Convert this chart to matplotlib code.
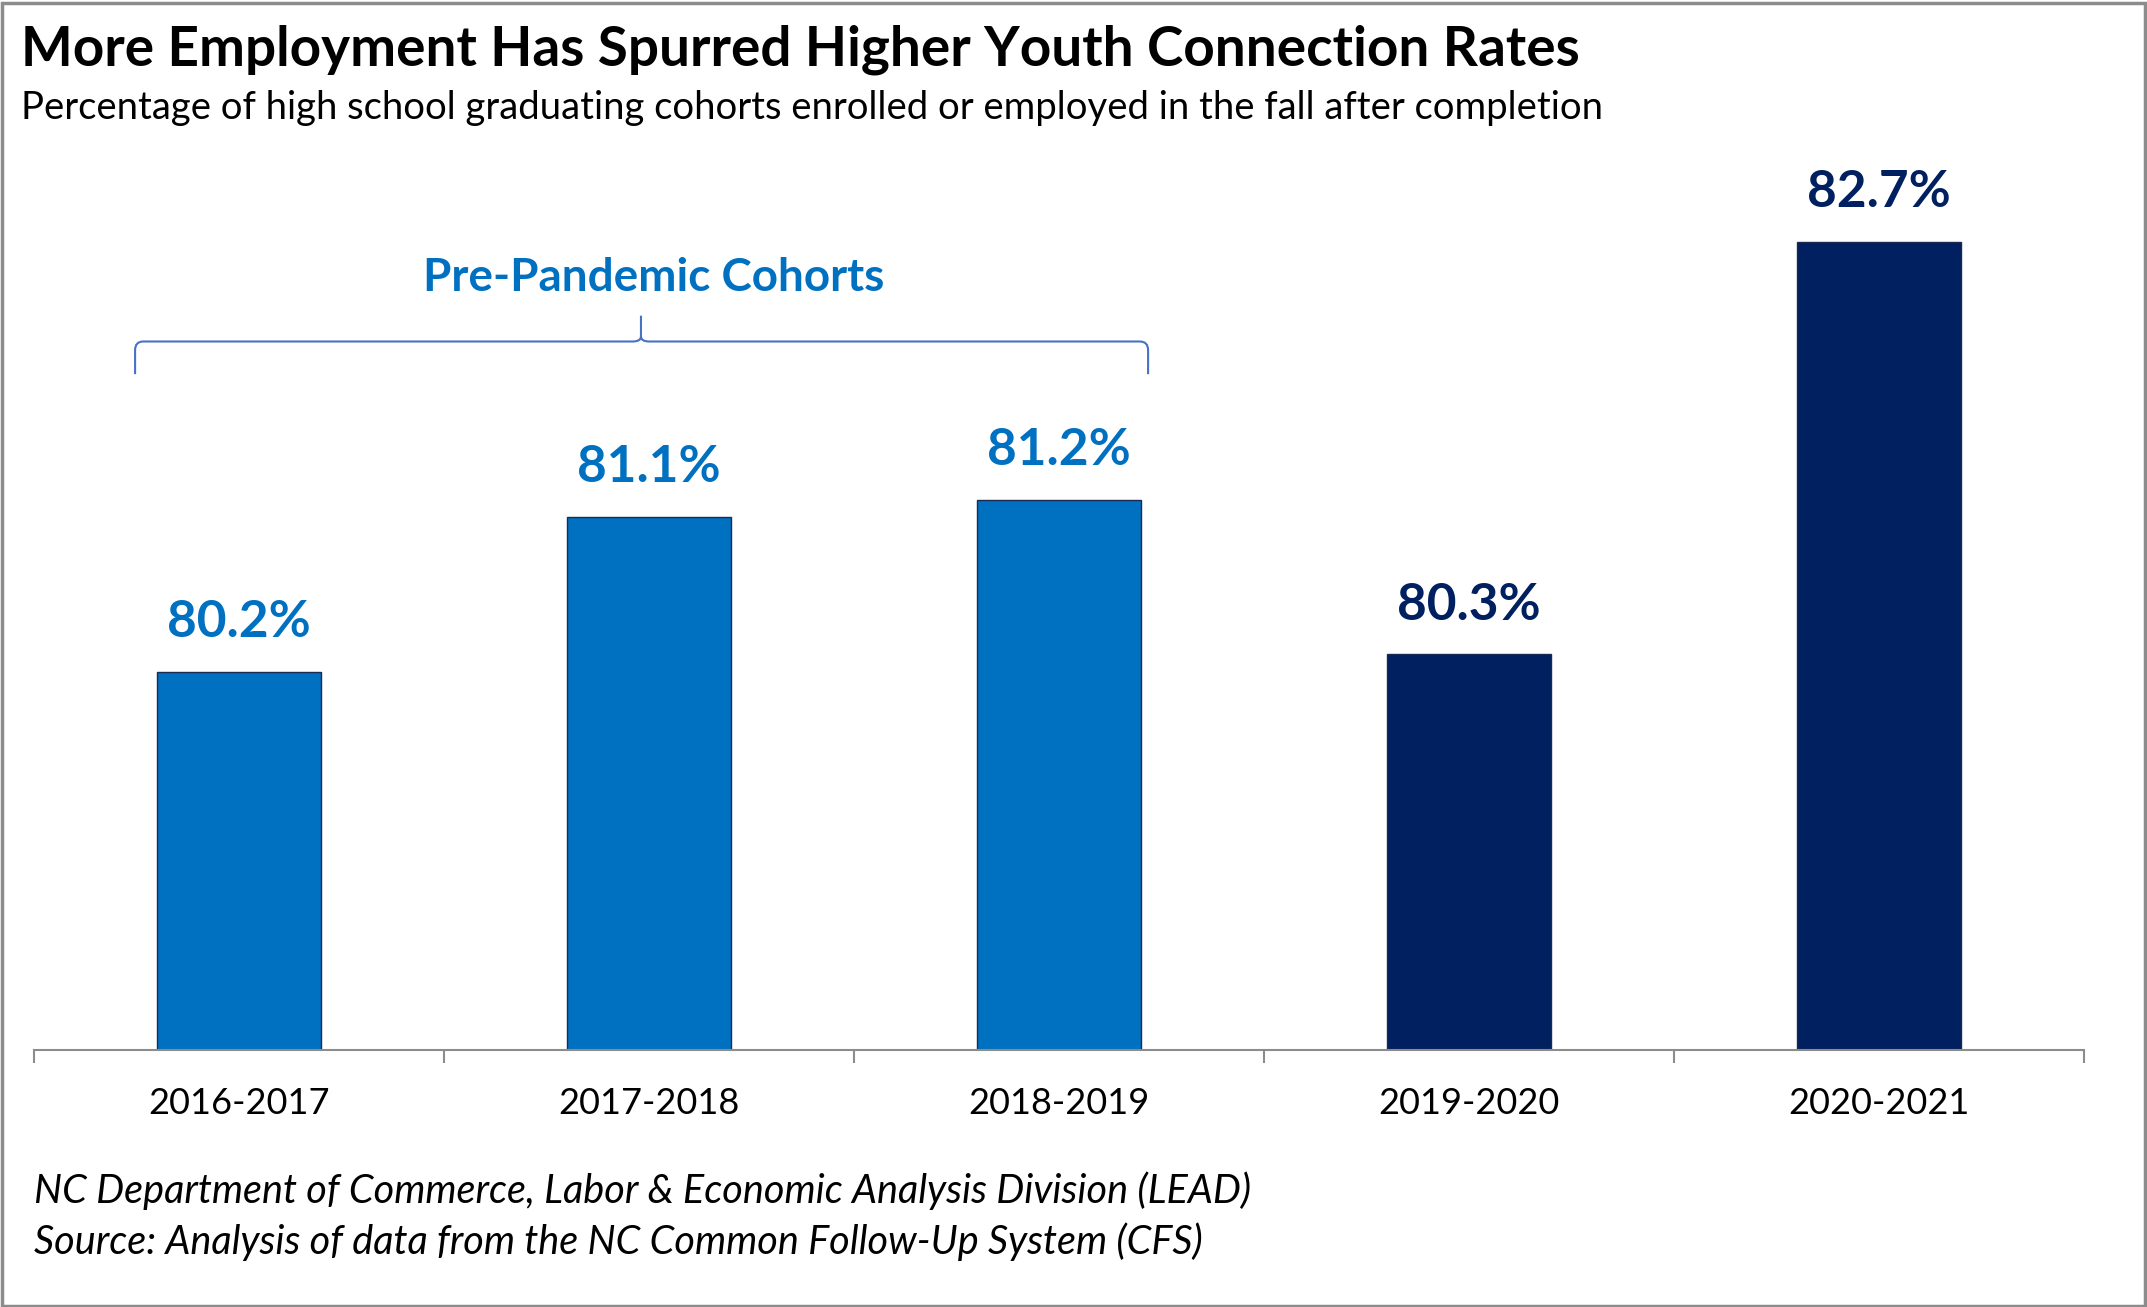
import numpy as np
import matplotlib.pyplot as plt
from matplotlib.path import Path
from matplotlib.patches import PathPatch, Rectangle

plt.rcParams["font.family"] = ["Lato", "DejaVu Sans"]

cohorts = ["2016-2017", "2017-2018", "2018-2019", "2019-2020", "2020-2021"]
rates = [80.2, 81.1, 81.2, 80.3, 82.7]
pre_pandemic = [True, True, True, False, False]

LIGHT = "#0070C0"
DARK = "#002060"
colors = [LIGHT if p else DARK for p in pre_pandemic]

W, H = 1568, 955  # reference layout grid
fig = plt.figure(figsize=(21.47, 13.07), dpi=100)

# grey frame round the whole picture
fig.add_artist(Rectangle((0.001, 0.001), 0.998, 0.997, transform=fig.transFigure,
                         fill=False, edgecolor="#8c8c8c", linewidth=2.5))

left, right = 25 / W, 1522 / W
bottom = 1 - 767 / H
top = 1 - 139 / H
ax = fig.add_axes([left, bottom, right - left, top - bottom])

x = np.arange(len(cohorts))
ax.bar(x, rates, width=0.4, bottom=0, color=colors,
       edgecolor="#1a2a50", linewidth=1.0, zorder=2)
ax.set_xlim(-0.5, len(cohorts) - 0.5)
ax.set_ylim(78, 83)

for xi, r, c in zip(x, rates, colors):
    ax.annotate(f"{r:.1f}%", (xi, r), xytext=(0, 35.5), textcoords="offset points",
                ha="center", va="center", fontsize=37, fontweight="bold", color=c)

for s in ["top", "right", "left"]:
    ax.spines[s].set_visible(False)
ax.spines["bottom"].set_color("#8c8c8c")
ax.spines["bottom"].set_linewidth(1.5)
ax.set_yticks([])
ax.set_xticks(np.arange(len(cohorts) + 1) - 0.5, minor=False)
ax.set_xticklabels([])
ax.tick_params(axis="x", which="major", length=9, width=1.5, color="#8c8c8c")
ax.set_xticks(x, minor=True)
ax.set_xticklabels(cohorts, minor=True, fontsize=26)
ax.tick_params(axis="x", which="minor", length=0, pad=27)

# bracket over the pre-pandemic cohorts
xl, xm, xr = -0.254, 0.98, 2.217
y0, y1, y2 = 81.93, 82.12, 82.27
dx, dy = 0.02, 0.05
verts = [(xl, y0), (xl, y1 - dy), (xl, y1), (xl + dx, y1),
         (xm - dx, y1), (xm, y1), (xm, y1 + dy * 0.6), (xm, y2),
         (xm, y1 + dy * 0.6), (xm, y1), (xm + dx, y1),
         (xr - dx, y1), (xr, y1), (xr, y1 - dy), (xr, y0)]
codes = [Path.MOVETO, Path.LINETO, Path.CURVE3, Path.CURVE3,
         Path.LINETO, Path.CURVE3, Path.CURVE3, Path.LINETO,
         Path.MOVETO, Path.CURVE3, Path.CURVE3,
         Path.LINETO, Path.CURVE3, Path.CURVE3, Path.LINETO]
ax.add_patch(PathPatch(Path(verts, codes), fill=False, edgecolor="#4472C4",
                       linewidth=1.5, clip_on=False))
ax.text(1.01, 82.49, "Pre-Pandemic Cohorts", ha="center", va="center",
        fontsize=33, fontweight="bold", color=LIGHT)

fig.text(15 / W, 1 - 36 / H, "More Employment Has Spurred Higher Youth Connection Rates",
         ha="left", va="center", fontsize=39.5, fontweight="bold", color="black")
fig.text(15 / W, 1 - 79 / H,
         "Percentage of high school graduating cohorts enrolled or employed in the fall after completion",
         ha="left", va="center", fontsize=27.5, color="black")
fig.text(25 / W, 1 - 870 / H,
         "NC Department of Commerce, Labor & Economic Analysis Division (LEAD)",
         ha="left", va="center", fontsize=28.5, style="italic")
fig.text(25 / W, 1 - 907 / H,
         "Source: Analysis of data from the NC Common Follow-Up System (CFS)",
         ha="left", va="center", fontsize=28.5, style="italic")

fig.savefig("out.png", dpi=100, facecolor="white")
